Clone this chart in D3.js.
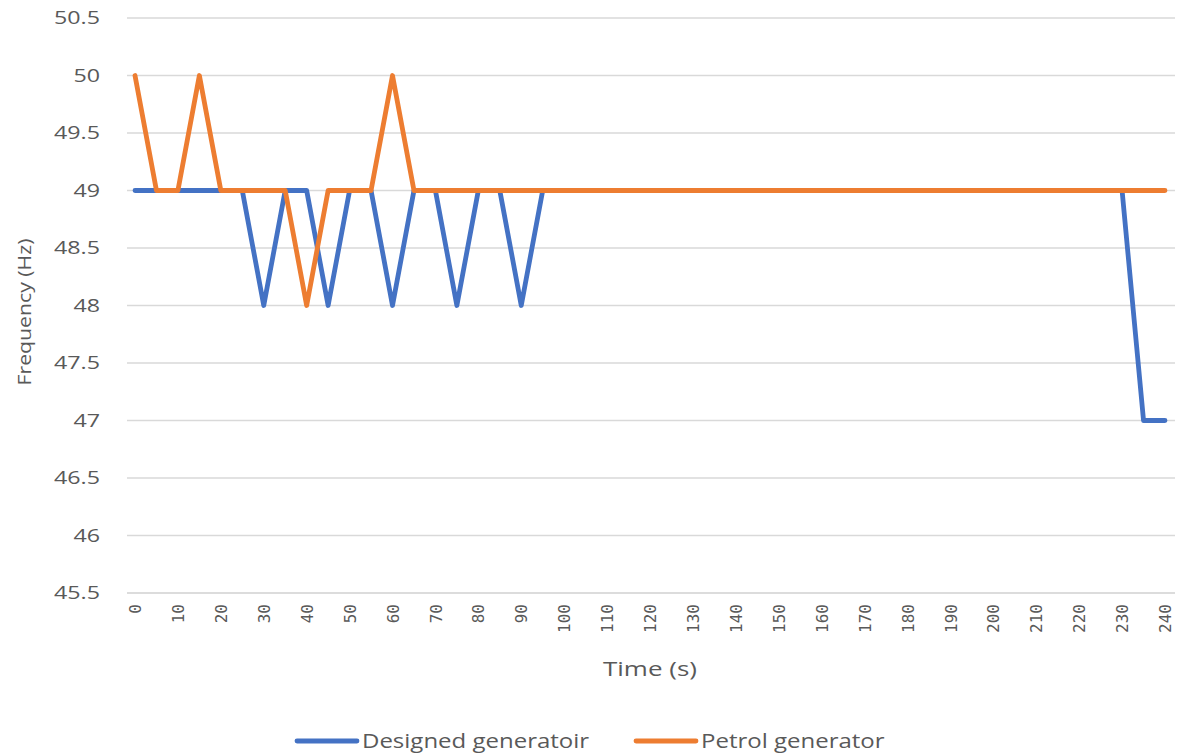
<!DOCTYPE html>
<html>
<head>
<meta charset="utf-8">
<script src="https://cdn.jsdelivr.net/npm/d3@7"></script>
<style>
  html, body { margin: 0; padding: 0; background: #ffffff; }
  svg { display: block; }
  text { font-family: "Open Sans", "Liberation Sans", sans-serif; fill: #595959; }
</style>
</head>
<body>
<svg id="chart" width="1183" height="756"></svg>
<script>
// Sample times (s), every 5 s from 0 to 240
const times = [0,5,10,15,20,25,30,35,40,45,50,55,60,65,70,75,80,85,90,95,
  100,105,110,115,120,125,130,135,140,145,150,155,160,165,170,175,180,185,190,195,
  200,205,210,215,220,225,230,235,240];

// Frequency (Hz) of the designed generator
const designed = [49,49,49,49,49,49,48,49,49,48,49,49,48,49,49,48,49,49,48,49,
  49,49,49,49,49,49,49,49,49,49,49,49,49,49,49,49,49,49,49,49,
  49,49,49,49,49,49,49,47,47];

// Frequency (Hz) of the petrol generator
const petrol = [50,49,49,50,49,49,49,49,48,49,49,49,50,49,49,49,49,49,49,49,
  49,49,49,49,49,49,49,49,49,49,49,49,49,49,49,49,49,49,49,49,
  49,49,49,49,49,49,49,49,49];

const yTicks = [45.5,46,46.5,47,47.5,48,48.5,49,49.5,50,50.5];
const xTickLabels = times.filter(t => t % 10 === 0);

const seriesNames = ["Designed generatoir", "Petrol generator"];
const seriesColors = ["#4472C4", "#ED7D31"];

// Text in this chart is drawn slightly wide
const stretch = 1.3;

const svg = d3.select("#chart");

const plotLeft = 127, plotRight = 1175, plotTop = 18, plotBottom = 593;

const x = d3.scalePoint()
  .domain(times)
  .range([135, 1165]);

const y = d3.scaleLinear()
  .domain([45.5, 50.5])
  .range([plotBottom, plotTop]);

// Horizontal gridlines
svg.append("g")
  .selectAll("line")
  .data(yTicks)
  .join("line")
  .attr("x1", plotLeft)
  .attr("x2", plotRight)
  .attr("y1", d => y(d))
  .attr("y2", d => y(d))
  .attr("stroke", d => d === 45.5 ? "#d0d0d0" : "#d9d9d9")
  .attr("stroke-width", 1.3);

// Y axis labels
const yAxis = d3.axisLeft(y)
  .tickValues(yTicks)
  .tickSize(0)
  .tickPadding(0)
  .tickFormat(d3.format("~g"));

svg.append("g")
  .attr("transform", `translate(100,0)`)
  .call(yAxis)
  .call(g => g.select(".domain").remove())
  .call(g => g.selectAll("text")
    .attr("font-size", 17.5)
    .attr("fill", "#595959")
    .attr("x", 0)
    .attr("transform", `scale(${stretch + 0.03},1)`)
    .style("font-family", "'Open Sans', sans-serif"));

// X axis labels (rotated)
const xAxis = d3.axisBottom(x)
  .tickValues(xTickLabels)
  .tickSize(0)
  .tickPadding(0);

svg.append("g")
  .attr("transform", `translate(0,${plotBottom})`)
  .call(xAxis)
  .call(g => g.select(".domain").remove())
  .call(g => g.selectAll("text")
    .attr("font-size", 16)
    .attr("fill", "#595959")
    .style("font-family", "'DejaVu Sans Mono', monospace")
    .attr("text-anchor", "end")
    .attr("dy", "0.35em")
    .attr("transform", "translate(0,11) rotate(-90)")
    .attr("x", 0)
    .attr("y", 0));

// Axis titles
svg.append("text")
  .attr("transform", `translate(650,676) scale(${stretch},1)`)
  .attr("text-anchor", "middle")
  .attr("font-size", 20)
  .text("Time (s)");

svg.append("text")
  .attr("transform", "translate(31,312) rotate(-90) scale(1.18,1)")
  .attr("text-anchor", "middle")
  .attr("font-size", 18)
  .text("Frequency (Hz)");

// Series lines
const line = d3.line()
  .x((d, i) => x(times[i]))
  .y(d => y(d));

[designed, petrol].forEach((vals, k) => {
  svg.append("path")
    .datum(vals)
    .attr("d", line)
    .attr("fill", "none")
    .attr("stroke", seriesColors[k])
    .attr("stroke-width", 4.8)
    .attr("stroke-linejoin", "round")
    .attr("stroke-linecap", "round");
});

// Legend
const legendItems = [
  { name: seriesNames[0], color: seriesColors[0], x: 297 },
  { name: seriesNames[1], color: seriesColors[1], x: 636 }
];
const lg = svg.append("g");
legendItems.forEach(it => {
  lg.append("line")
    .attr("x1", it.x).attr("x2", it.x + 60)
    .attr("y1", 741).attr("y2", 741)
    .attr("stroke", it.color)
    .attr("stroke-width", 4.8)
    .attr("stroke-linecap", "round");
  lg.append("text")
    .attr("transform", `translate(${it.x + 65},748) scale(1.2,1)`)
    .attr("font-size", 20)
    .text(it.name);
});
</script>
</body>
</html>
